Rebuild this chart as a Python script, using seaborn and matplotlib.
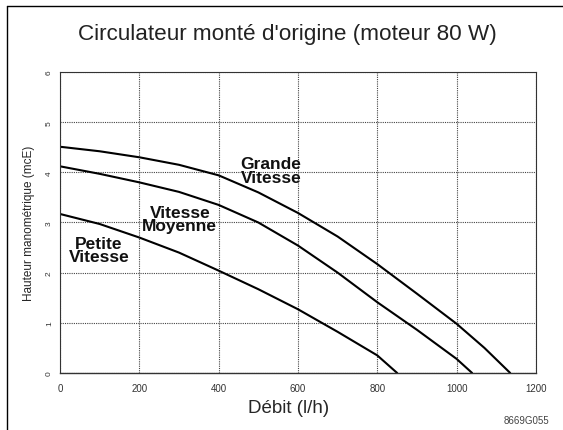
import matplotlib
matplotlib.use("Agg")
import matplotlib.pyplot as plt
import seaborn as sns
import pandas as pd
from matplotlib.lines import Line2D

sns.set_theme(style="white")
plt.rcParams['font.family'] = ['Liberation Sans', 'DejaVu Sans']

# Data (débit l/h, hauteur mcE)
grande_x = [0, 100, 200, 300, 400, 500, 600, 700, 800, 900, 1000, 1070, 1135]
grande_y = [4.51, 4.42, 4.30, 4.15, 3.94, 3.60, 3.19, 2.72, 2.17, 1.58, 0.98, 0.50, 0.0]
moyenne_x = [0, 100, 200, 300, 400, 500, 600, 700, 800, 900, 1000, 1039]
moyenne_y = [4.12, 3.97, 3.80, 3.61, 3.35, 3.00, 2.54, 2.00, 1.41, 0.86, 0.28, 0.0]
petite_x = [0, 100, 200, 300, 400, 500, 600, 700, 800, 850]
petite_y = [3.17, 2.97, 2.70, 2.40, 2.04, 1.67, 1.27, 0.82, 0.35, 0.0]

x_ticks = [0, 200, 400, 600, 800, 1000, 1200]
y_ticks = [0, 1, 2, 3, 4, 5, 6]

labels = ["Grande\nVitesse", "Vitesse\nMoyenne", "Petite\nVitesse"]
label_x = [532, 302, 98]
label_y = [4.04, 3.07, 2.45]

df = pd.concat([
    pd.DataFrame({"q": grande_x, "h": grande_y, "s": "Grande"}),
    pd.DataFrame({"q": moyenne_x, "h": moyenne_y, "s": "Moyenne"}),
    pd.DataFrame({"q": petite_x, "h": petite_y, "s": "Petite"}),
])

fig = plt.figure(figsize=(5.63, 4.31), dpi=100)
ax = fig.add_axes([0.1066, 0.1323, 0.952 - 0.1066, 0.8306 - 0.1323])

sns.lineplot(data=df, x="q", y="h", hue="s", palette=["black"] * 3,
             linewidth=1.5, legend=False, ax=ax, sort=False, estimator=None)

ax.set_xlim(0, 1200)
ax.set_ylim(0, 6)
ax.set_xticks(x_ticks)
ax.set_yticks(y_ticks)
ax.set_xticklabels([str(v) for v in x_ticks], fontsize=7, color="#333333")
ax.set_yticklabels([str(v) for v in y_ticks], fontsize=6, color="#333333", rotation=90, va="center")
ax.tick_params(axis="x", length=0, pad=7)
ax.tick_params(axis="y", length=0, pad=5)
ax.grid(True, linestyle=(0, (1, 1)), color="#444444", linewidth=0.8)
for s in ax.spines.values():
    s.set_linestyle((0, (1, 1)))
    s.set_color("#333333")
    s.set_linewidth(0.8)
ax.spines["bottom"].set_linestyle("-")
ax.spines["bottom"].set_linewidth(1.0)

for t, xx, yy in zip(labels, label_x, label_y):
    ax.text(xx, yy, t, ha="center", va="center", fontsize=12.5, fontweight="bold",
            linespacing=0.9, color="#111111")

ax.set_xlabel("Débit (l/h)", fontsize=13.5, labelpad=1)
ax.xaxis.set_label_coords(0.48, -0.085)
ax.set_ylabel("Hauteur manométrique (mcE)", fontsize=8.5, labelpad=8)

fig.text(0.51, 0.921, "Circulateur monté d'origine (moteur 80 W)", ha="center", va="center",
         fontsize=16.2, color="#222222")
fig.text(0.975, 0.023, "8669G055", ha="right", va="center", fontsize=7, color="#444444")

# outer frame (left and top)
fig.add_artist(Line2D([0.0125, 0.0125], [0.0, 0.984], color="black", linewidth=1.0, transform=fig.transFigure))
fig.add_artist(Line2D([0.0125, 1.0], [0.984, 0.984], color="black", linewidth=1.0, transform=fig.transFigure))

fig.savefig("out.png", dpi=100)
